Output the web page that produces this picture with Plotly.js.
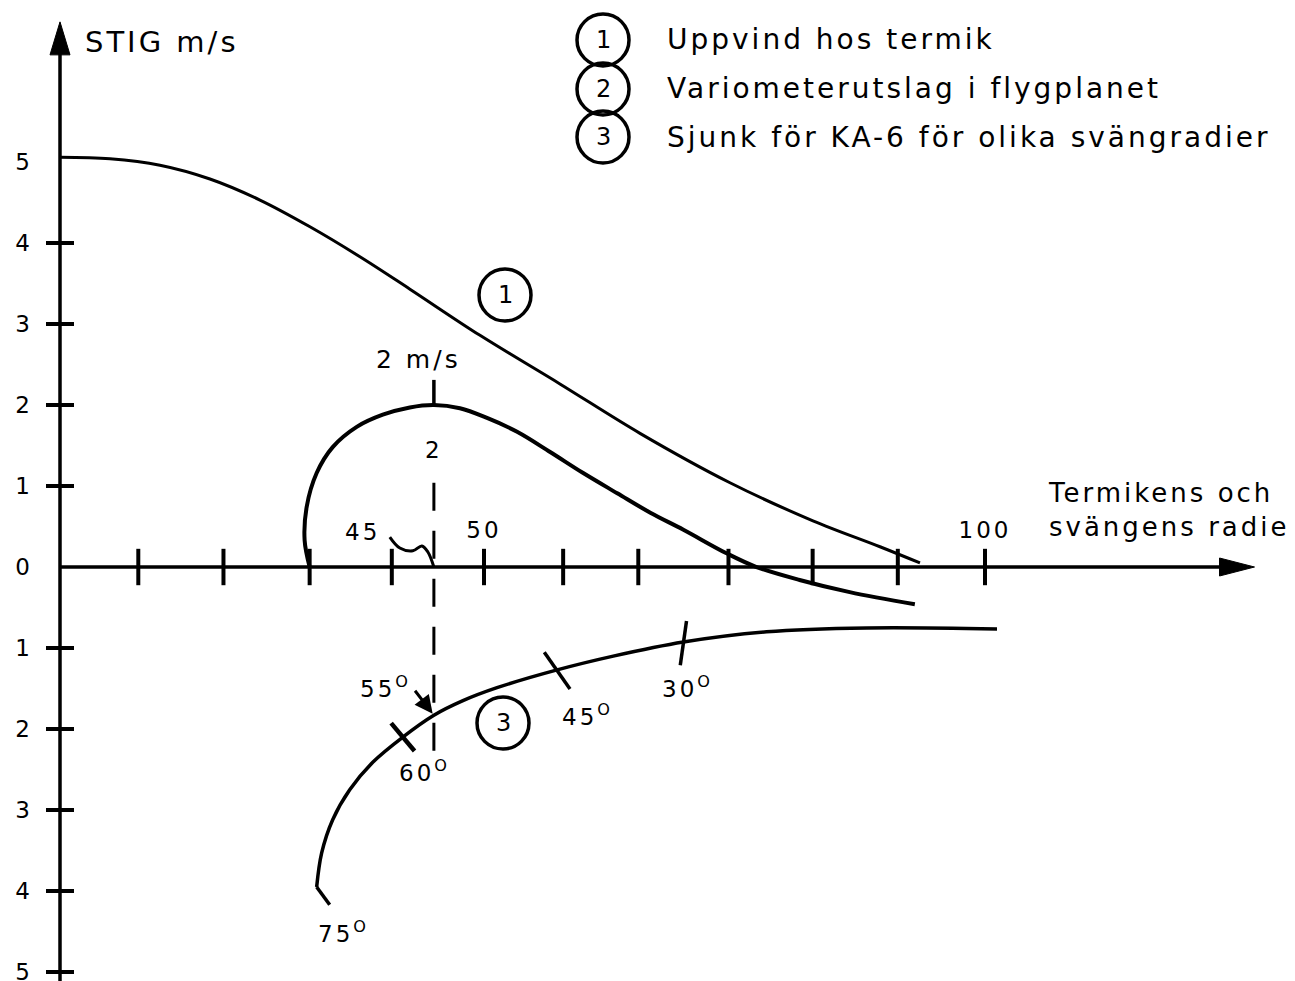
<!DOCTYPE html>
<html>
<head>
<meta charset="utf-8">
<script src="https://cdn.plot.ly/plotly-3.0.1.min.js"></script>
<style>
  html, body { margin: 0; padding: 0; background: #fff; }
  #chart { width: 1295px; height: 981px; }
  svg text { letter-spacing: 3px; }
</style>
</head>
<body>
<div id="chart"></div>
<script>
// Radius (m) against vertical speed (m/s): thermal updraft, variometer reading
// and KA-6 sink rate for different bank angles.

// (1) Uppvind hos termik
const updraftR = [7.68, 12.67, 17.66, 22.65, 27.64, 32.63, 37.62, 42.61, 49.6, 57.58, 65.57, 74.55, 82.83, 89.52, 93.51];
const updraftV = [5.06, 5.04, 4.96, 4.79, 4.53, 4.20, 3.83, 3.43, 2.86, 2.26, 1.65, 1.04, 0.57, 0.25, 0.05];

// (2) Variometerutslag i flygplanet
const varioR = [32.6, 32.1, 32.3, 33.3, 34.9, 37.3, 39.9, 42.6, 45.0, 47.6, 50.3, 53.3, 56.6, 59.9, 63.3, 66.6, 69.9, 74.2, 77.2, 81.5, 86.5, 93.0];
const varioV = [0, 0.33, 0.74, 1.16, 1.48, 1.73, 1.88, 1.97, 2.0, 1.96, 1.84, 1.67, 1.42, 1.16, 0.91, 0.67, 0.46, 0.17, 0, -0.16, -0.31, -0.46];

// (3) Sjunk för KA-6 (drawn downwards from the radius axis)
const sinkR = [101.2, 88.2, 78.2, 69.9, 62.9, 57.3, 51.3, 47.9, 45.0, 41.9, 38.9, 36.6, 34.9, 33.8, 33.3];
const sinkV = [-0.765, -0.753, -0.80, -0.926, -1.10, -1.27, -1.49, -1.65, -1.83, -2.10, -2.41, -2.75, -3.12, -3.53, -3.95];
const sinkEndR = [33.3, 34.6];
const sinkEndV = [-3.95, -4.17];

// Bank angle marks along the sink curve
const bankTickAngles = [30, 45, 60];
const bankTickR = [69.9, 57.3, 41.9];
const bankTickV = [-0.94, -1.28, -2.10];
const bank55R = 45.0;
const bank55V = -1.83;

// Best circling point: variometer peak
const peakR = 45;
const peakV = 2;
const peakMarkTop = 2.31;
const guideTop = 1.04;
const guideBottom = -2.41;

// Wavy leader from the "45" label down to the radius axis
const leaderR = [40.6, 41.6, 42.9, 43.8, 44.4, 45.0];
const leaderV = [0.37, 0.235, 0.20, 0.26, 0.185, 0.0];

// Axis ticks and labels
const radiusTicks = [15.5, 24, 32.6, 40.8, 50, 57.9, 65.4, 74.4, 82.8, 91.3, 100];
const radiusLabelVals = [50, 100];
const radiusLabelText = ['50', '100'];
const climbTicks = [4, 3, 2, 1, -1, -2, -3, -4, -5];
const climbTickVals = [-5, -4, -3, -2, -1, 0, 1, 2, 3, 4, 5];
const climbTickText = ['5', '4', '3', '2', '1', '0', '1', '2', '3', '4', '5'];

const legendItems = ['Uppvind hos termik', 'Variometerutslag i flygplanet', 'Sjunk för KA-6 för olika svängradier'];

// ---- layout geometry ----
const W = 1295, H = 981;
const xMin = 1.697, xMax = 130.94;
const yMin = -5.111, yMax = 7.0;
const xOrigin = 7.685;                 // where the climb axis stands
const xArrowTip = 126.9, yArrowTip = 6.73;
const PX = p => p / W;
const PY = p => 1 - p / H;

const ink = '#000';
const FONT = 'DejaVu Sans';

const lineTrace = (x, y, width, extra) => Object.assign({
  x: x, y: y, type: 'scatter', mode: 'lines',
  line: {color: ink, width: width, shape: 'spline', smoothing: 1},
  hoverinfo: 'skip', cliponaxis: false
}, extra || {});

// one rotated stroke across the sink curve
const bankMark = (i, size, tilt, width) => ({
  x: [bankTickR[i]], y: [bankTickV[i]], type: 'scatter', mode: 'markers', hoverinfo: 'skip', cliponaxis: false,
  marker: {symbol: 'line-ns-open', size: size, angle: tilt, color: ink, line: {color: ink, width: width}}
});

const traces = [
  lineTrace(updraftR, updraftV, 3),
  lineTrace(varioR, varioV, 4),
  lineTrace(sinkR, sinkV, 3.5),
  lineTrace(sinkEndR, sinkEndV, 3.5, {line: {color: ink, width: 3.5}}),
  // mark above the variometer peak
  lineTrace([peakR, peakR], [peakV, peakMarkTop], 3.5, {line: {color: ink, width: 3.5}}),
  // dashed guide through the 55 degree point
  lineTrace([peakR, peakR], [guideTop, guideBottom], 3, {line: {color: ink, width: 3, dash: '28px,20px'}}),
  // leader from "45"
  lineTrace(leaderR, leaderV, 3, {line: {color: ink, width: 3, shape: 'spline', smoothing: 1}}),
  // radius axis ticks
  {x: radiusTicks, y: radiusTicks.map(() => 0), type: 'scatter', mode: 'markers', hoverinfo: 'skip', cliponaxis: false,
   marker: {symbol: 'line-ns-open', size: 26, color: ink, line: {color: ink, width: 4}}},
  // climb axis ticks
  {x: climbTicks.map(() => xOrigin), y: climbTicks, type: 'scatter', mode: 'markers', hoverinfo: 'skip', cliponaxis: false,
   marker: {symbol: 'line-ew-open', size: 20, color: ink, line: {color: ink, width: 4}}},
  // bank angle marks on the sink curve
  bankMark(0, 32, 8, 3.5),
  bankMark(1, 32, -35, 3.5),
  bankMark(2, 26, -40, 4.5)
];

function ring(cx, cy, r) {
  return {type: 'circle', xref: 'paper', yref: 'paper', xsizemode: 'pixel', ysizemode: 'pixel',
          xanchor: PX(cx), yanchor: PY(cy), x0: -r, x1: r, y0: -r, y1: r,
          line: {color: ink, width: 3.5}, fillcolor: 'rgba(0,0,0,0)'};
}

const shapes = [
  // climb axis with arrow
  {type: 'line', xref: 'x', yref: 'y', x0: xOrigin, x1: xOrigin, y0: yMin, y1: yArrowTip - 0.2, line: {color: ink, width: 3.5}},
  {type: 'path', xref: 'x', yref: 'y', xsizemode: 'pixel', ysizemode: 'pixel', xanchor: xOrigin, yanchor: yArrowTip,
   path: 'M0,0 L-10,-33 L10,-33 Z', fillcolor: ink, line: {color: ink, width: 1}},
  // radius axis with arrow
  {type: 'line', xref: 'x', yref: 'y', x0: xOrigin, x1: xArrowTip - 2, y0: 0, y1: 0, line: {color: ink, width: 3.5}},
  {type: 'path', xref: 'x', yref: 'y', xsizemode: 'pixel', ysizemode: 'pixel', xanchor: xArrowTip, yanchor: 0,
   path: 'M0,0 L-35,9 L-35,-9 Z', fillcolor: ink, line: {color: ink, width: 1}},
  // legend rings
  ring(603, 40, 26), ring(603, 89, 26), ring(603, 137, 26),
  // curve rings
  ring(505, 295, 26), ring(503, 723, 26)
];

const paperNote = (text, px, py, size, extra) => Object.assign({
  text: text, xref: 'paper', yref: 'paper', x: PX(px), y: PY(py), showarrow: false,
  xanchor: 'center', yanchor: 'middle', font: {family: FONT, size: size, color: ink}
}, extra || {});

const dataNote = (text, x, y, dx, dy, size, extra) => Object.assign({
  text: text, xref: 'x', yref: 'y', x: x, y: y, xshift: dx, yshift: dy, showarrow: false,
  xanchor: 'center', yanchor: 'middle', font: {family: FONT, size: size, color: ink}
}, extra || {});

const deg = a => a + '<sup>O</sup>';

const annotations = [
  paperNote('STIG m/s', 83, 42, 29, {xanchor: 'left'}),
  paperNote('1', 605, 40, 24), paperNote('2', 605, 89, 24), paperNote('3', 605, 137, 24),
  paperNote(legendItems[0], 665, 40, 28, {xanchor: 'left'}),
  paperNote(legendItems[1], 665, 88, 28, {xanchor: 'left'}),
  paperNote(legendItems[2], 665, 137, 28, {xanchor: 'left'}),
  paperNote('1', 507, 295, 24), paperNote('3', 505, 723, 24),
  paperNote('Termikens och<br>svängens radie', 1046, 510, 26, {xanchor: 'left', align: 'left'}),
  dataNote(peakV + ' m/s', peakR, peakMarkTop, -15, 20, 25),
  dataNote(String(peakV), peakR, peakV, 0, -45, 23),
  dataNote('45', peakR, 0, -71, 35, 23),
  dataNote(deg(55), bank55R, bank55V, -48, 28, 23),
  dataNote(deg(bankTickAngles[2]), bankTickR[2], bankTickV[2], 22, -34, 23),
  dataNote(deg(bankTickAngles[1]), bankTickR[1], bankTickV[1], 30, -44, 23),
  dataNote(deg(bankTickAngles[0]), bankTickR[0], bankTickV[0], 4, -44, 23),
  dataNote(deg(75), sinkEndR[1], sinkEndV[1], 14, -27, 23),
  // short arrow onto the 55 degree point
  {text: '', xref: 'x', yref: 'y', x: bank55R, y: bank55V, ax: -20, ay: -26, showarrow: true,
   arrowhead: 2, arrowsize: 1.2, arrowwidth: 3, arrowcolor: ink, standoff: 2}
];

const layout = {
  width: W, height: H,
  margin: {l: 0, r: 0, t: 0, b: 0},
  paper_bgcolor: '#fff', plot_bgcolor: '#fff',
  showlegend: false,
  font: {family: FONT, color: ink, size: 23},
  xaxis: {
    range: [xMin, xMax], showgrid: false, zeroline: false, showline: false, ticks: '',
    tickvals: radiusLabelVals, ticktext: radiusLabelText,
    side: 'top', anchor: 'free', position: (0 - yMin) / (yMax - yMin),
    ticklabelstandoff: 24, ticklabeloverflow: 'allow', tickfont: {family: FONT, size: 23, color: ink}
  },
  yaxis: {
    range: [yMin, yMax], showgrid: false, zeroline: false, showline: false, ticks: '',
    tickvals: climbTickVals, ticktext: climbTickText,
    anchor: 'free', position: (xOrigin - xMin) / (xMax - xMin),
    ticklabelstandoff: 27, ticklabeloverflow: 'allow', tickfont: {family: FONT, size: 23, color: ink}
  },
  shapes: shapes,
  annotations: annotations
};

Plotly.newPlot('chart', traces, layout, {staticPlot: true, displayModeBar: false});
</script>
</body>
</html>
